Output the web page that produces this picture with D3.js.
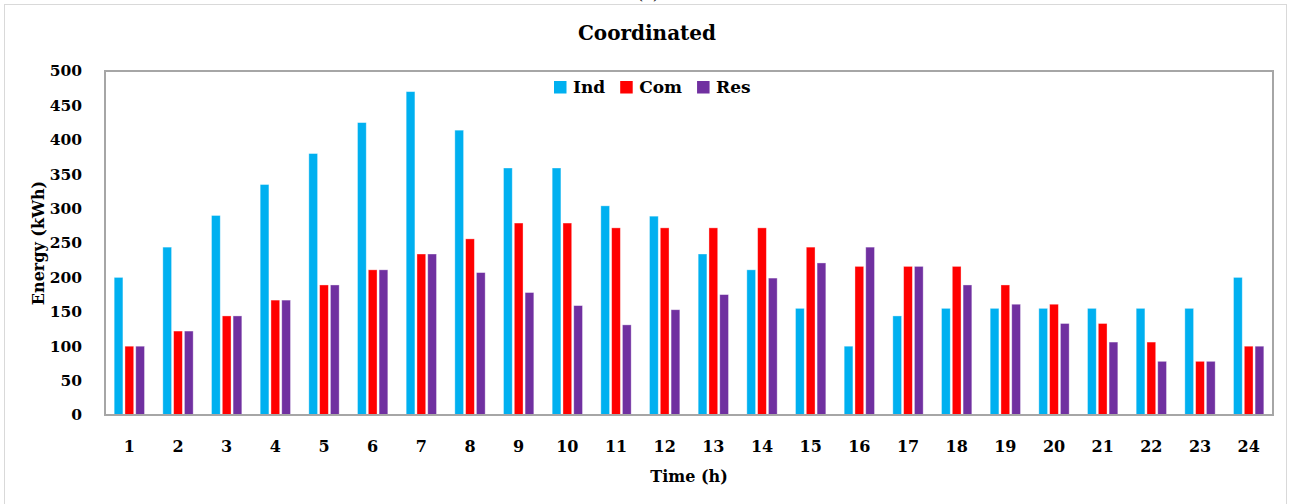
<!DOCTYPE html>
<html>
<head>
<meta charset="utf-8">
<script src="https://cdn.jsdelivr.net/npm/d3@7"></script>
<style>
  html, body { margin: 0; padding: 0; background: #fff; }
  svg { display: block; }
  text { font-family: "DejaVu Serif", "Liberation Serif", serif; font-weight: bold; fill: #000; }
</style>
</head>
<body>
<svg id="chart" width="1290" height="504"></svg>
<script>
// Hourly energy by sector (kWh)
const hours = d3.range(1, 25).map(String);
const seriesNames = ["Ind", "Com", "Res"];
const seriesColors = ["#00B0F0", "#FF0000", "#7030A0"];
const indValues = [200, 244, 290, 335, 380, 425, 470, 414, 359, 359, 304, 289, 234, 211, 155, 100, 144, 155, 155, 155, 155, 155, 155, 200];
const comValues = [100, 122, 144, 167, 189, 211, 234, 256, 279, 279, 272, 272, 272, 272, 244, 216, 216, 216, 189, 161, 133, 106, 78, 100];
const resValues = [100, 122, 144, 167, 189, 211, 234, 207, 178, 159, 131, 153, 175, 199, 221, 244, 216, 189, 161, 133, 106, 78, 78, 100];
const yTicks = [0, 50, 100, 150, 200, 250, 300, 350, 400, 450, 500];

const seriesValues = [indValues, comValues, resValues];
const rows = hours.map((h, i) => ({
  hour: h,
  values: seriesNames.map((s, j) => ({ key: s, value: seriesValues[j][i] }))
}));

const svg = d3.select("#chart");
const plot = { left: 105, right: 1273, top: 71, bottom: 415 };

// outer chart frame
svg.append("rect")
  .attr("x", 4.5).attr("y", 4.5)
  .attr("width", 1282).attr("height", 540)
  .attr("fill", "none").attr("stroke", "#d9d9d9").attr("stroke-width", 1);

// panel label, mostly above the frame
svg.append("text")
  .attr("x", 648).attr("y", -1)
  .attr("text-anchor", "middle")
  .style("font-size", "16px").style("font-weight", "normal")
  .text("(a)");

svg.append("text")
  .attr("x", 647).attr("y", 40)
  .attr("text-anchor", "middle")
  .style("font-size", "20px")
  .text("Coordinated");

const x0 = d3.scaleBand().domain(hours).range([plot.left, plot.right]).paddingInner(0).paddingOuter(0);
const x1 = d3.scaleBand().domain(seriesNames).range([0, x0.bandwidth()]).paddingInner(0.19).paddingOuter(0.85);
const y = d3.scaleLinear().domain([0, 500]).range([plot.bottom, plot.top]);
const color = d3.scaleOrdinal().domain(seriesNames).range(seriesColors);

// bars
const groups = svg.append("g").selectAll("g")
  .data(rows).join("g")
  .attr("transform", d => `translate(${x0(d.hour)},0)`);

groups.selectAll("rect")
  .data(d => d.values).join("rect")
  .attr("x", d => x1(d.key))
  .attr("y", d => y(d.value))
  .attr("width", x1.bandwidth())
  .attr("height", d => y(0) - y(d.value))
  .attr("fill", d => color(d.key))
  .attr("stroke", "#ffffff").attr("stroke-opacity", 0.45).attr("stroke-width", 0.8);

// plot frame
svg.append("rect")
  .attr("x", plot.left).attr("y", plot.top)
  .attr("width", plot.right - plot.left).attr("height", plot.bottom - plot.top)
  .attr("fill", "none").attr("stroke", "#a6a6a6").attr("stroke-width", 2);

// y axis
const yAxis = svg.append("g")
  .attr("transform", `translate(${plot.left},0)`)
  .call(d3.axisLeft(y).tickValues(yTicks).tickSize(0).tickPadding(23));
yAxis.select(".domain").remove();
yAxis.selectAll("text").style("font-size", "15.5px").style("font-family", null);

// x axis
const xAxis = svg.append("g")
  .attr("transform", `translate(0,${plot.bottom})`)
  .call(d3.axisBottom(x0).tickSize(0).tickPadding(26));
xAxis.select(".domain").remove();
xAxis.selectAll("text").style("font-size", "16px").style("font-family", null);

svg.append("text")
  .attr("x", 689).attr("y", 482)
  .attr("text-anchor", "middle")
  .style("font-size", "16px")
  .text("Time (h)");

svg.append("text")
  .attr("transform", "translate(44,243) rotate(-90)")
  .attr("text-anchor", "middle")
  .style("font-size", "16px")
  .text("Energy (kWh)");

// legend
const legend = svg.append("g");
let lx = 554;
seriesNames.forEach(name => {
  legend.append("rect")
    .attr("x", lx).attr("y", 81)
    .attr("width", 12.5).attr("height", 12.5)
    .attr("fill", color(name));
  const t = legend.append("text")
    .attr("x", lx + 19).attr("y", 93)
    .style("font-size", "17px")
    .text(name);
  lx += 19 + t.node().getComputedTextLength() + 15;
});
</script>
</body>
</html>
